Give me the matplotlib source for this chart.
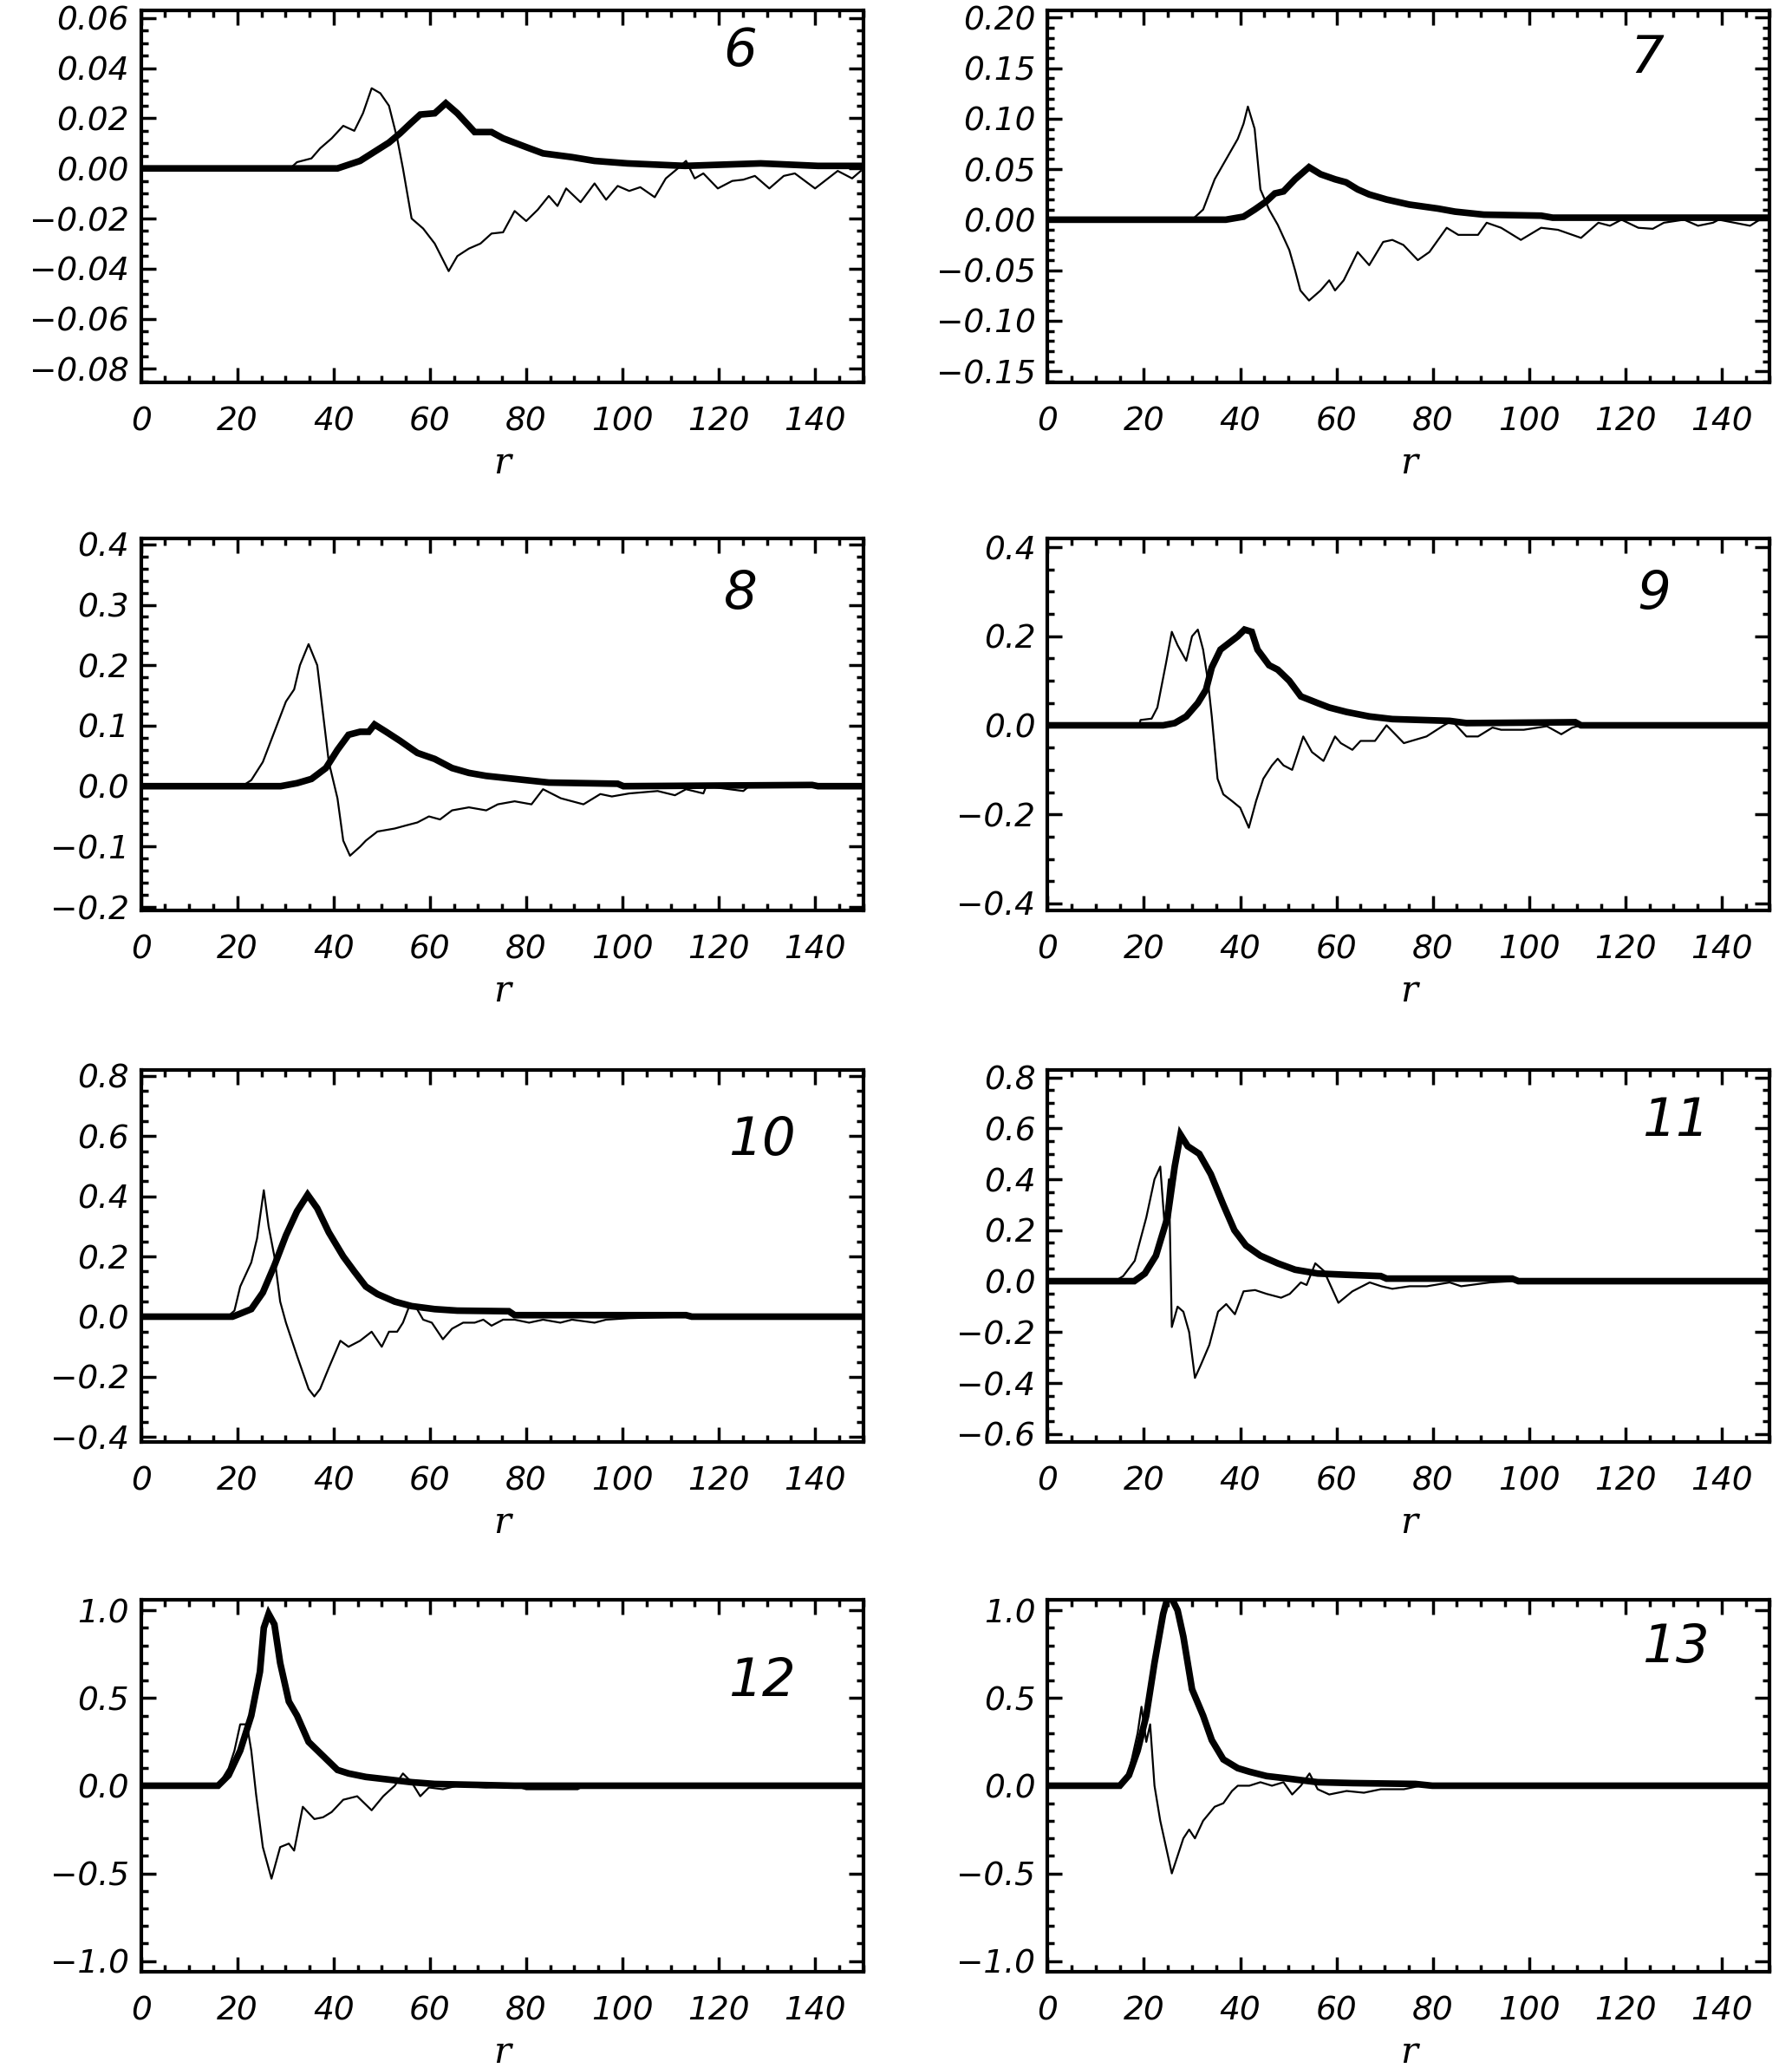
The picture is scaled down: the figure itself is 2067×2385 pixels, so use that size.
import matplotlib
matplotlib.use("Agg")
import matplotlib.pyplot as plt
from matplotlib.ticker import MultipleLocator, AutoMinorLocator, FuncFormatter

# panel labels
panel_ids = ["6", "7", "8", "9", "10", "11", "12", "13"]

# panel 6
r_thick_6 = [0, 40.8, 45.5, 51.5, 53.8, 56, 58, 61, 63.3, 65.7, 69.3, 72.8, 75.2, 80, 83.5, 89.5, 94.2, 101, 113, 128.7, 140.6, 150]
thick_6 = [0, 0, 0.003, 0.0103, 0.014, 0.018, 0.0215, 0.022, 0.026, 0.022, 0.0145, 0.0145, 0.012, 0.0085, 0.006, 0.0045, 0.003, 0.002, 0.001, 0.002, 0.001, 0.001]
r_thin_6 = [0, 31, 32.4, 35.4, 37.2, 39.6, 42, 44.3, 46.1, 47.9, 49.7, 51.5, 53.2, 54.4, 56.2, 58.6, 61, 63.9, 65.7, 68.1, 70.5,
            72.8, 75.2, 77.6, 80, 82.4, 84.7, 86.5, 88.3, 91.3, 94.2, 96.6, 99, 101.4, 103.7, 106.7, 109, 111.5, 113.2, 115,
            116.8, 119.8, 122.8, 125.1, 127.5, 130.5, 133.5, 135.8, 140, 144.7, 147.7, 149.5]
thin_6 = [0, 0, 0.0025, 0.004, 0.008, 0.012, 0.017, 0.015, 0.022, 0.032, 0.030, 0.025, 0.012, 0.0, -0.02, -0.024, -0.03, -0.041, -0.035, -0.032, -0.03,
          -0.026, -0.0255, -0.017, -0.021, -0.0165, -0.011, -0.015, -0.008, -0.0135, -0.006, -0.0125, -0.007, -0.009, -0.0075, -0.0115, -0.004, 0.0, 0.003, -0.004,
          -0.002, -0.008, -0.005, -0.0045, -0.003, -0.008, -0.003, -0.002, -0.008, -0.001, -0.004, -0.001]

# panel 7
r_thick_7 = [0, 37, 40.7, 43, 45.4, 47.2, 49, 51.4, 54.3, 56.7, 59.7, 62, 64.4, 66.8, 70.4, 75.1, 81.1, 84.6, 90.6, 102.5, 104.9, 150]
thick_7 = [0, 0, 0.003, 0.01, 0.018, 0.026, 0.028, 0.04, 0.052, 0.045, 0.04, 0.037, 0.03, 0.025, 0.02, 0.015, 0.011, 0.008, 0.005, 0.004, 0.002, 0.002]
r_thin_7 = [0, 30, 32.3, 34.7, 37.1, 39.5, 40.7, 41.6, 43, 44.2, 46, 47.8, 50.2, 51.4, 52.5, 54.3, 56.7, 58.5, 59.7, 61.5, 64.4, 66.8,
            69.7, 71.6, 73.9, 76.9, 79.3, 82.9, 85.3, 89.4, 91.2, 94.2, 98.3, 102.5, 106, 110.8, 114.4, 116.8, 119.2, 122.7, 125.7,
            128, 132.2, 135.1, 138.2, 139.4, 145.9, 148.9, 150]
thin_7 = [0, 0, 0.01, 0.04, 0.06, 0.08, 0.095, 0.112, 0.09, 0.03, 0.01, -0.005, -0.03, -0.05, -0.07, -0.08, -0.07, -0.06, -0.07, -0.06, -0.032, -0.045,
          -0.022, -0.02, -0.025, -0.04, -0.032, -0.008, -0.015, -0.015, -0.003, -0.008, -0.02, -0.008, -0.01, -0.018, -0.003, -0.006, 0.0, -0.008, -0.009,
          -0.003, 0.0, -0.006, -0.003, 0.0, -0.006, 0.003, 0.0]

# panel 8
r_thick_8 = [0, 29, 32.4, 35.4, 38.4, 40.8, 43.1, 45.5, 47.3, 48.5, 50.9, 53.8, 57.4, 61, 64.6, 68.1, 71.7, 77.6, 84.7, 99, 100.2, 139.4, 140.6, 150]
thick_8 = [0, 0, 0.005, 0.012, 0.03, 0.06, 0.085, 0.09, 0.09, 0.102, 0.09, 0.075, 0.055, 0.045, 0.03, 0.022, 0.017, 0.012, 0.006, 0.004, 0.0, 0.002, 0.0, 0.0]
r_thin_8 = [0, 21, 22.9, 25.3, 27.7, 30.1, 31.8, 33, 34.8, 36.6, 37.8, 39, 40.8, 42, 43.4, 45.5, 46.7, 49.1, 52.7, 55, 57.4, 59.8,
            62.1, 64.6, 68.1, 71.7, 74.1, 77.6, 81.1, 83.5, 87.2, 91.9, 95.4, 97.8, 101.4, 107.3, 110.9, 113.2, 116.8, 117.4,
            125.1, 126.3]
thin_8 = [0, 0, 0.01, 0.04, 0.09, 0.14, 0.16, 0.2, 0.235, 0.2, 0.12, 0.04, -0.02, -0.09, -0.115, -0.1, -0.09, -0.075, -0.07, -0.065, -0.06, -0.05,
          -0.055, -0.04, -0.035, -0.04, -0.03, -0.025, -0.03, -0.005, -0.02, -0.03, -0.013, -0.017, -0.012, -0.008, -0.015, -0.005, -0.012, 0.0,
          -0.008, 0.0]

# panel 9
r_thick_9 = [0, 24, 26.4, 28.8, 31.2, 32.9, 34.1, 35.9, 38.3, 39.5, 40.9, 42.4, 43.6, 46, 47.8, 50.2, 52.6, 56.1, 58.5, 62.1, 66.8, 71.6, 83.5, 87, 109.6, 110.8, 150]
thick_9 = [0, 0, 0.005, 0.02, 0.05, 0.08, 0.13, 0.17, 0.19, 0.2, 0.215, 0.21, 0.17, 0.135, 0.125, 0.1, 0.065, 0.05, 0.04, 0.03, 0.02, 0.014, 0.01, 0.005, 0.007, 0.0, 0.0]
r_thin_9 = [0, 19, 19.3, 21.6, 22.8, 24.6, 25.8, 27, 28.8, 30, 31.2, 32.3, 33.3, 34.1, 35.3, 36.5, 38.3, 40, 41.8, 43.3, 44.8, 46.6,
            47.8, 49, 50.8, 53.1, 54.9, 57.3, 59.7, 60.9, 63.3, 65, 68, 70.4, 74, 78.7, 82.3, 84, 87, 89.4, 92.4, 94.2, 98.9,
            103.7, 106.7, 109, 110.8]
thin_9 = [0, 0, 0.012, 0.015, 0.04, 0.14, 0.21, 0.18, 0.145, 0.2, 0.215, 0.17, 0.1, 0.02, -0.12, -0.155, -0.17, -0.185, -0.23, -0.17, -0.12, -0.09,
          -0.075, -0.09, -0.1, -0.025, -0.06, -0.08, -0.025, -0.04, -0.055, -0.035, -0.035, 0.0, -0.04, -0.025, 0.0, 0.01, -0.025, -0.025, -0.005, -0.01, -0.01,
          -0.002, -0.02, -0.005, 0.0]

# panel 10
r_thick_10 = [0, 19, 20.6, 22.9, 25.3, 27.7, 30.1, 32.4, 34.6, 36.6, 39, 42, 44.3, 46.7, 49.1, 52.7, 56.2, 61, 65.7, 76.4, 77.6, 113.2, 114.4, 150]
thick_10 = [0, 0, 0.01, 0.025, 0.08, 0.17, 0.27, 0.35, 0.405, 0.36, 0.28, 0.2, 0.15, 0.1, 0.075, 0.05, 0.035, 0.025, 0.02, 0.018, 0.005, 0.005, 0.0, 0.0]
r_thin_10 = [0, 18, 19.4, 20.6, 22.9, 24.1, 25.5, 26.5, 27.7, 28.9, 30.1, 32.4, 34.8, 36, 37.2, 39, 41.4, 43.1, 45.5, 47.9, 50, 51.5,
             53.2, 54.4, 55.6, 56.8, 58.6, 60.4, 62.7, 64.6, 66.9, 69.3, 71.1, 72.8, 75.2, 77.6, 80.6, 83.5, 87.1, 89.5, 94.2,
             96.6, 101.4, 113.2]
thin_10 = [0, 0, 0.02, 0.1, 0.18, 0.26, 0.42, 0.3, 0.2, 0.05, -0.02, -0.13, -0.24, -0.265, -0.24, -0.17, -0.08, -0.1, -0.08, -0.05, -0.1, -0.05,
           -0.05, -0.02, 0.03, 0.04, -0.01, -0.02, -0.075, -0.04, -0.02, -0.02, -0.01, -0.03, -0.01, -0.01, -0.02, -0.01, -0.02, -0.01, -0.02,
           -0.01, -0.005, 0.0]

# panel 11
r_thick_11 = [0, 18, 20.2, 22.5, 24.9, 26.4, 27.6, 29.1, 31.5, 33.9, 36.5, 38.8, 41.2, 44.2, 47.8, 51.4, 56.1, 62.1, 69.2, 70.4, 96.5, 97.8, 150]
thick_11 = [0, 0, 0.03, 0.1, 0.25, 0.45, 0.575, 0.53, 0.5, 0.42, 0.3, 0.2, 0.14, 0.1, 0.07, 0.045, 0.03, 0.025, 0.02, 0.01, 0.01, 0.0, 0.0]
r_thin_11 = [0, 14, 15.7, 18.1, 20.5, 22.2, 23.4, 24.3, 25.2, 25.8, 27, 28.2, 29.4, 30.6, 31.8, 33.6, 35.4, 37.1, 38.9, 40.7, 43.1,
             45.5, 48.5, 50.3, 52.6, 53.8, 55.6, 57.4, 60.4, 63.3, 66.9, 69.3, 71.6, 75.2, 78.8, 83.5, 85.9, 91.9, 96.6]
thin_11 = [0, 0, 0.02, 0.08, 0.25, 0.4, 0.45, 0.22, 0.4, -0.18, -0.1, -0.12, -0.2, -0.38, -0.33, -0.25, -0.12, -0.09, -0.13, -0.04, -0.035,
           -0.05, -0.065, -0.05, -0.005, -0.015, 0.07, 0.04, -0.085, -0.04, -0.005, -0.02, -0.03, -0.02, -0.02, -0.005, -0.02, -0.005, 0.0]

# panel 12
r_thick_12 = [0, 16, 18.2, 20.6, 22.9, 24.7, 25.5, 26.5, 27.7, 28.9, 30.7, 32.4, 34.8, 37.8, 40.8, 43.1, 46.7, 51.5, 56.2, 61, 77.6, 150]
thick_12 = [0, 0, 0.06, 0.2, 0.4, 0.65, 0.9, 0.98, 0.92, 0.7, 0.48, 0.4, 0.25, 0.17, 0.09, 0.07, 0.05, 0.035, 0.02, 0.01, 0.0, 0.0]
r_thin_12 = [0, 16, 18.2, 19.4, 20.6, 22, 22.9, 23.9, 25.3, 27.1, 28.9, 30.7, 31.8, 33.6, 36, 37.8, 39.6, 42, 44.9, 47.9, 50.3,
             52.7, 54.4, 56.2, 58, 59.8, 62.7, 65.7, 71.7, 77.6, 80, 90.7, 91.9]
thin_12 = [0, 0, 0.1, 0.2, 0.35, 0.35, 0.2, -0.05, -0.35, -0.53, -0.35, -0.33, -0.37, -0.12, -0.19, -0.18, -0.15, -0.08, -0.06, -0.14, -0.06,
           0.0, 0.07, 0.02, -0.06, -0.01, -0.02, 0.0, -0.01, 0.0, -0.02, -0.02, 0.0]

# panel 13
r_thick_13 = [0, 15, 16.9, 18.7, 20.5, 22.2, 24, 25.2, 27, 28.2, 30, 32.3, 34.1, 36.5, 39.5, 41.9, 45.5, 50.2, 56.1, 63.3, 76.4, 79.9, 150]
thick_13 = [0, 0, 0.06, 0.2, 0.4, 0.7, 0.98, 1.1, 1.0, 0.85, 0.55, 0.4, 0.26, 0.15, 0.1, 0.08, 0.055, 0.04, 0.02, 0.015, 0.01, 0.0, 0.0]
r_thin_13 = [0, 15, 16.9, 18.7, 19.5, 20.5, 21.3, 22.2, 23.4, 24.6, 25.8, 27, 28.2, 29.4, 30.6, 32.3, 34.7, 36.5, 38.3, 39.5, 41.9,
             44.2, 46.6, 49, 50.8, 52.6, 54.4, 56.1, 58.5, 62.1, 65.7, 69.2, 74, 77.5]
thin_13 = [0, 0, 0.08, 0.3, 0.45, 0.25, 0.35, 0.0, -0.2, -0.35, -0.5, -0.4, -0.3, -0.25, -0.3, -0.2, -0.12, -0.1, -0.03, 0.0, 0.0,
           0.02, 0.0, 0.02, -0.05, 0.0, 0.07, -0.02, -0.05, -0.03, -0.04, -0.02, -0.02, 0.0]

thick_r = [r_thick_6, r_thick_7, r_thick_8, r_thick_9, r_thick_10, r_thick_11, r_thick_12, r_thick_13]
thick_v = [thick_6, thick_7, thick_8, thick_9, thick_10, thick_11, thick_12, thick_13]
thin_r = [r_thin_6, r_thin_7, r_thin_8, r_thin_9, r_thin_10, r_thin_11, r_thin_12, r_thin_13]
thin_v = [thin_6, thin_7, thin_8, thin_9, thin_10, thin_11, thin_12, thin_13]

# y axis ranges, major steps, decimals of the labels
y_limits = [(-0.0854, 0.063), (-0.161, 0.207), (-0.205, 0.41), (-0.415, 0.42),
            (-0.415, 0.82), (-0.63, 0.83), (-1.06, 1.06), (-1.06, 1.06)]
y_steps = [0.02, 0.05, 0.1, 0.2, 0.2, 0.2, 0.5, 0.5]
y_decimals = [2, 2, 1, 1, 1, 1, 1, 1]
label_pos = [(0.83, 0.89), (0.83, 0.87), (0.83, 0.85), (0.84, 0.85),
             (0.86, 0.81), (0.87, 0.86), (0.86, 0.78), (0.87, 0.87)]


def make_fmt(nd):
    def fmt(v, pos):
        s = f"{v:.{nd}f}"
        if float(s) == 0:
            s = s.lstrip("-")
        return s.replace("-", "\u2212")
    return FuncFormatter(fmt)


fig = plt.figure(figsize=(20.67, 23.85), dpi=100)

col_left = [0.0787, 0.5846]
row_bottom = [0.8151, 0.5599, 0.3029, 0.0466]
ax_w, ax_h = 0.403, 0.1798

for i in range(8):
    row, col = divmod(i, 2)
    ax = fig.add_axes([col_left[col], row_bottom[row], ax_w, ax_h])
    ax.plot(thick_r[i], thick_v[i], color="black", lw=5.5, solid_joinstyle="miter")
    ax.plot(thin_r[i], thin_v[i], color="black", lw=1.6)
    ax.set_xlim(0, 150)
    ax.set_ylim(*y_limits[i])
    ax.xaxis.set_major_locator(MultipleLocator(20))
    ax.xaxis.set_minor_locator(MultipleLocator(5))
    ax.yaxis.set_major_locator(MultipleLocator(y_steps[i]))
    ax.yaxis.set_minor_locator(AutoMinorLocator())
    ax.yaxis.set_major_formatter(make_fmt(y_decimals[i]))
    ax.tick_params(which="both", direction="in", top=True, right=True, width=2.5)
    ax.tick_params(which="major", length=12)
    ax.tick_params(which="minor", length=6)
    ax.tick_params(axis="x", which="major", pad=20)
    ax.tick_params(axis="y", which="major", pad=10)
    for lab in ax.get_xticklabels() + ax.get_yticklabels():
        lab.set_fontfamily("DejaVu Sans")
        lab.set_fontstyle("italic")
        lab.set_fontsize(27)
    for sp in ax.spines.values():
        sp.set_linewidth(3)
    ax.set_xlabel("r", fontsize=30, family="DejaVu Serif", style="italic", labelpad=6)
    ax.text(label_pos[i][0], label_pos[i][1], panel_ids[i], transform=ax.transAxes,
            ha="center", va="center", fontsize=44, family="DejaVu Sans", style="italic")

fig.savefig("out.png", dpi=100)
